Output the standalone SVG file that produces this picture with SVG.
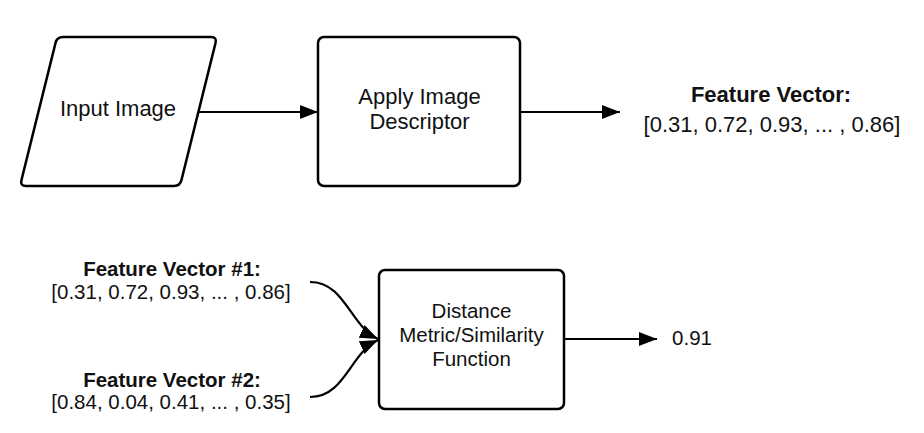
<svg xmlns="http://www.w3.org/2000/svg" width="924" height="433" viewBox="0 0 924 433">
<style>
.shape{fill:#fff;stroke:#000;stroke-width:2.5;stroke-linejoin:round}
.conn{fill:none;stroke:#000;stroke-width:2.2}
.t{font-family:"Liberation Sans",Arial,sans-serif;fill:#111;text-anchor:middle}
.big{font-size:22px}
.sm{font-size:20.5px}
.b{font-weight:bold}
</style>
<defs>
<marker id="ah" markerUnits="userSpaceOnUse" markerWidth="20" markerHeight="16" refX="18" refY="7" orient="auto">
<path d="M0,0 L18,7 L0,14 Z" fill="#000"/>
</marker>
</defs>
<rect width="924" height="433" fill="#fff"/>
<g id="input-image">
<path class="shape" d="M63,37 L211,37 Q217,37 215.55,42.83 L181.45,180.17 Q180,186 174,186 L26,186 Q20,186 21.45,180.17 L55.55,42.83 Q57,37 63,37 Z"/>
<text class="t big" x="118" y="116">Input Image</text>
</g>
<g id="apply-descriptor">
<rect class="shape" x="318" y="37" width="202" height="149" rx="6"/>
<text class="t big" x="419.5" y="104">Apply Image</text>
<text class="t big" x="419.5" y="129">Descriptor</text>
</g>
<g id="feature-vector">
<text class="t big b" x="771" y="102">Feature Vector:</text>
<text class="t big" x="772" y="132">[0.31, 0.72, 0.93, ... , 0.86]</text>
</g>
<g id="feature-vector-1">
<text class="t sm b" x="172" y="276">Feature Vector #1:</text>
<text class="t sm" x="171" y="299">[0.31, 0.72, 0.93, ... , 0.86]</text>
</g>
<g id="feature-vector-2">
<text class="t sm b" x="172" y="387">Feature Vector #2:</text>
<text class="t sm" x="171" y="409">[0.84, 0.04, 0.41, ... , 0.35]</text>
</g>
<g id="distance-function">
<rect class="shape" x="379" y="270" width="185" height="139" rx="6"/>
<text class="t sm" x="471.5" y="318">Distance</text>
<text class="t sm" x="471.5" y="342">Metric/Similarity</text>
<text class="t sm" x="471.5" y="366">Function</text>
</g>
<g id="result">
<text class="t sm" x="692" y="345">0.91</text>
</g>
<g id="connectors">
<path class="conn" d="M199,112 L318,112" marker-end="url(#ah)"/>
<path class="conn" d="M520,112 L620,112" marker-end="url(#ah)"/>
<path class="conn" d="M310,282 C345,282 350,326 378,339" marker-end="url(#ah)"/>
<path class="conn" d="M310,397 C345,397 350,353 378,340" marker-end="url(#ah)"/>
<path class="conn" d="M564,339 L657,339" marker-end="url(#ah)"/>
</g>
</svg>
